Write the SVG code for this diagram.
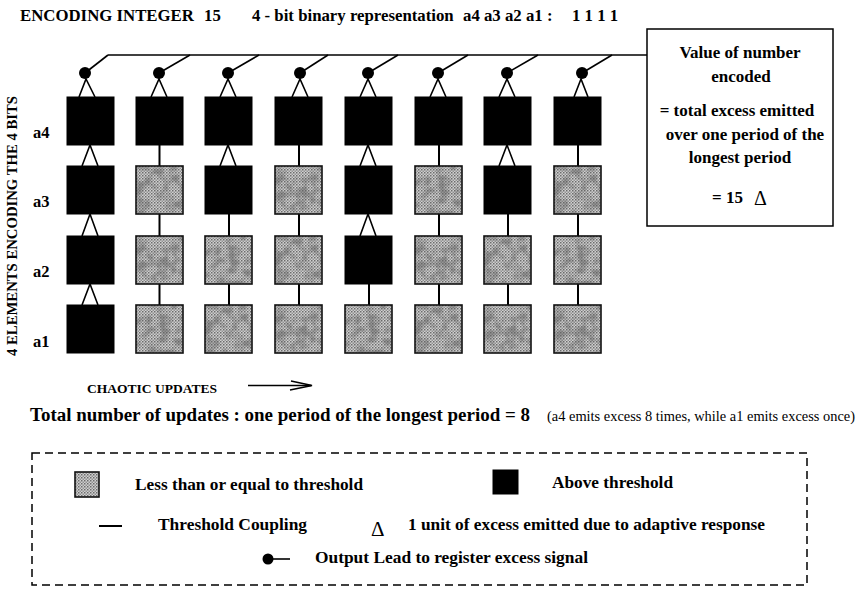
<svg xmlns="http://www.w3.org/2000/svg" width="859" height="591" viewBox="0 0 859 591">
<style>
.b{font-family:"Liberation Serif","Times New Roman",serif;font-weight:bold;fill:#000}
.r{font-family:"Liberation Serif","Times New Roman",serif;font-weight:normal;fill:#000}
.on{fill:#000;stroke:#000;stroke-width:1}
.off{fill:url(#stip);stroke:#111;stroke-width:1.6}
.cp{stroke:#000;stroke-width:2;fill:none}
.ex{stroke:#000;stroke-width:1.6;fill:none;stroke-linejoin:miter}
.ld{stroke:#000;stroke-width:1.6;fill:none}
</style>
<defs>
<pattern id="stip" width="3" height="3" patternUnits="userSpaceOnUse">
<rect width="3" height="3" fill="#d0d0d0"/>
<rect width="1.5" height="1.5" fill="#6c6c6c"/>
<rect x="1.5" y="1.5" width="1.5" height="1.5" fill="#929292"/>
</pattern>
<filter id="m1" x="0" y="0" width="1" height="1" color-interpolation-filters="sRGB">
<feTurbulence type="fractalNoise" baseFrequency="0.09" numOctaves="2" seed="7" result="n"/>
<feColorMatrix in="n" type="matrix" values="0 0 0 0 0.4 0 0 0 0 0.4 0 0 0 0 0.4 4 0 0 0 -1.8" result="m"/>
<feComposite in="m" in2="SourceGraphic" operator="in"/>
</filter>
<filter id="m2" x="0" y="0" width="1" height="1" color-interpolation-filters="sRGB">
<feTurbulence type="fractalNoise" baseFrequency="0.09" numOctaves="2" seed="23" result="n"/>
<feColorMatrix in="n" type="matrix" values="0 0 0 0 0.4 0 0 0 0 0.4 0 0 0 0 0.4 4 0 0 0 -1.8" result="m"/>
<feComposite in="m" in2="SourceGraphic" operator="in"/>
</filter>
<filter id="m3" x="0" y="0" width="1" height="1" color-interpolation-filters="sRGB">
<feTurbulence type="fractalNoise" baseFrequency="0.09" numOctaves="2" seed="51" result="n"/>
<feColorMatrix in="n" type="matrix" values="0 0 0 0 0.4 0 0 0 0 0.4 0 0 0 0 0.4 4 0 0 0 -1.8" result="m"/>
<feComposite in="m" in2="SourceGraphic" operator="in"/>
</filter>
<g id="gA"><rect class="off" x="0" y="0" width="47" height="48"/><rect x="1" y="1" width="45" height="46" fill="#000" opacity="0.55" filter="url(#m1)"/></g>
<g id="gB"><rect class="off" x="0" y="0" width="47" height="48"/><rect x="1" y="1" width="45" height="46" fill="#000" opacity="0.55" filter="url(#m2)"/></g>
<g id="gC"><rect class="off" x="0" y="0" width="47" height="48"/><rect x="1" y="1" width="45" height="46" fill="#000" opacity="0.55" filter="url(#m3)"/></g>
</defs>
<rect width="859" height="591" fill="#fff"/>

<g id="title">
<text class="b" x="20" y="21" font-size="16.8">ENCODING INTEGER</text>
<text class="b" x="204" y="21" font-size="16.8">15</text>
<text class="b" x="252" y="21" font-size="16.8">4 - bit binary representation</text>
<text class="b" x="463" y="21" font-size="16.8">a4 a3 a2 a1 :</text>
<text class="b" x="572" y="21" font-size="16.8">1 1 1 1</text>
</g>

<g id="axis-label">
<text class="b" font-size="14.5" text-anchor="middle" transform="translate(17,226) rotate(-90)" textLength="260" lengthAdjust="spacingAndGlyphs">4 ELEMENTS ENCODING THE 4 BITS</text>
<text class="b" x="33" y="138" font-size="16.5">a4</text>
<text class="b" x="33" y="207" font-size="16.5">a3</text>
<text class="b" x="33" y="277" font-size="16.5">a2</text>
<text class="b" x="33" y="347" font-size="16.5">a1</text>
</g>

<g id="connectors">
<line class="ld" x1="108" y1="55" x2="647" y2="55"/>
<g id="leads">
<line class="ld" x1="85" y1="73" x2="108" y2="55"/><circle cx="85" cy="73" r="6"/>
<line class="ld" x1="159" y1="73" x2="190" y2="55"/><circle cx="159" cy="73" r="6"/>
<line class="ld" x1="228" y1="73" x2="259" y2="55"/><circle cx="228" cy="73" r="6"/>
<line class="ld" x1="300" y1="73" x2="328" y2="55"/><circle cx="300" cy="73" r="6"/>
<line class="ld" x1="368" y1="73" x2="398" y2="55"/><circle cx="368" cy="73" r="6"/>
<line class="ld" x1="438" y1="73" x2="468" y2="55"/><circle cx="438" cy="73" r="6"/>
<line class="ld" x1="507" y1="73" x2="538" y2="55"/><circle cx="507" cy="73" r="6"/>
<line class="ld" x1="582" y1="73" x2="612" y2="55"/><circle cx="582" cy="73" r="6"/>
</g>
<g id="excess">
<polyline class="ex" points="79,97 86,79 95,97"/>
<polyline class="ex" points="151,97 159,79 167,97"/>
<polyline class="ex" points="220,97 228,79 236,97"/>
<polyline class="ex" points="292,97 300,79 308,97"/>
<polyline class="ex" points="360,97 368,79 376,97"/>
<polyline class="ex" points="430,97 438,79 446,97"/>
<polyline class="ex" points="499,97 507,79 515,97"/>
<polyline class="ex" points="574,97 581,79 588,97"/>
<polyline class="ex" points="82,166 90,145 98,166"/>
<polyline class="ex" points="82,236 90,214 98,236"/>
<polyline class="ex" points="82,305 90,284 98,305"/>
<polyline class="ex" points="220,166 228,145 236,166"/>
<polyline class="ex" points="360,166 368,145 376,166"/>
<polyline class="ex" points="360,236 368,214 376,236"/>
<polyline class="ex" points="499,166 507,145 515,166"/>
</g>
<g id="coupling">
<line class="cp" x1="159.5" y1="145" x2="159.5" y2="166"/>
<line class="cp" x1="159.5" y1="214" x2="159.5" y2="236"/>
<line class="cp" x1="159.5" y1="284" x2="159.5" y2="305"/>
<line class="cp" x1="229" y1="214" x2="229" y2="236"/>
<line class="cp" x1="229" y1="284" x2="229" y2="305"/>
<line class="cp" x1="299" y1="145" x2="299" y2="166"/>
<line class="cp" x1="299" y1="214" x2="299" y2="236"/>
<line class="cp" x1="299" y1="284" x2="299" y2="305"/>
<line class="cp" x1="369" y1="284" x2="369" y2="305"/>
<line class="cp" x1="439" y1="145" x2="439" y2="166"/>
<line class="cp" x1="439" y1="214" x2="439" y2="236"/>
<line class="cp" x1="439" y1="284" x2="439" y2="305"/>
<line class="cp" x1="508" y1="214" x2="508" y2="236"/>
<line class="cp" x1="508" y1="284" x2="508" y2="305"/>
<line class="cp" x1="578" y1="145" x2="578" y2="166"/>
<line class="cp" x1="578" y1="214" x2="578" y2="236"/>
<line class="cp" x1="578" y1="284" x2="578" y2="305"/>
</g>
</g>

<g id="cells">
<g id="c1-a4"><rect class="on" x="67" y="97" width="47" height="48"/></g>
<g id="c1-a3"><rect class="on" x="67" y="166" width="47" height="48"/></g>
<g id="c1-a2"><rect class="on" x="67" y="236" width="47" height="48"/></g>
<g id="c1-a1"><rect class="on" x="67" y="305" width="47" height="48"/></g>

<g id="c2-a4"><rect class="on" x="136" y="97" width="47" height="48"/></g>
<g id="c2-a3"><use href="#gA" x="136" y="166"/></g>
<g id="c2-a2"><use href="#gB" x="136" y="236"/></g>
<g id="c2-a1"><use href="#gC" x="136" y="305"/></g>

<g id="c3-a4"><rect class="on" x="205" y="97" width="47" height="48"/></g>
<g id="c3-a3"><rect class="on" x="205" y="166" width="47" height="48"/></g>
<g id="c3-a2"><use href="#gC" x="205" y="236"/></g>
<g id="c3-a1"><use href="#gA" x="205" y="305"/></g>

<g id="c4-a4"><rect class="on" x="275" y="97" width="47" height="48"/></g>
<g id="c4-a3"><use href="#gB" x="275" y="166"/></g>
<g id="c4-a2"><use href="#gA" x="275" y="236"/></g>
<g id="c4-a1"><use href="#gB" x="275" y="305"/></g>

<g id="c5-a4"><rect class="on" x="345" y="97" width="47" height="48"/></g>
<g id="c5-a3"><rect class="on" x="345" y="166" width="47" height="48"/></g>
<g id="c5-a2"><rect class="on" x="345" y="236" width="47" height="48"/></g>
<g id="c5-a1"><use href="#gC" x="345" y="305"/></g>

<g id="c6-a4"><rect class="on" x="415" y="97" width="47" height="48"/></g>
<g id="c6-a3"><use href="#gC" x="415" y="166"/></g>
<g id="c6-a2"><use href="#gB" x="415" y="236"/></g>
<g id="c6-a1"><use href="#gA" x="415" y="305"/></g>

<g id="c7-a4"><rect class="on" x="484" y="97" width="47" height="48"/></g>
<g id="c7-a3"><rect class="on" x="484" y="166" width="47" height="48"/></g>
<g id="c7-a2"><use href="#gA" x="484" y="236"/></g>
<g id="c7-a1"><use href="#gB" x="484" y="305"/></g>

<g id="c8-a4"><rect class="on" x="554" y="97" width="47" height="48"/></g>
<g id="c8-a3"><use href="#gA" x="554" y="166"/></g>
<g id="c8-a2"><use href="#gC" x="554" y="236"/></g>
<g id="c8-a1"><use href="#gB" x="554" y="305"/></g>
</g>

<g id="value-box">
<rect x="647" y="29" width="186" height="197" fill="#fff" stroke="#000" stroke-width="1.5"/>
<g font-size="17" text-anchor="middle">
<text class="b" x="740" y="58">Value of number</text>
<text class="b" x="741" y="82">encoded</text>
<text class="b" x="737" y="116">= total excess emitted</text>
<text class="b" x="745" y="140">over one period of the</text>
<text class="b" x="740" y="163">longest period</text>
</g>
<text class="b" x="712" y="203" font-size="17">= 15</text>
<text class="r" x="754" y="205" font-size="20">Δ</text>
</g>

<g id="updates">
<text class="b" x="87" y="393" font-size="13.5" textLength="130" lengthAdjust="spacingAndGlyphs">CHAOTIC UPDATES</text>
<line class="ld" x1="248" y1="385.5" x2="311" y2="385.5"/>
<polyline class="ld" points="291,381 312,385.5 290,390"/>
<text class="b" x="30" y="421" font-size="18" textLength="500" lengthAdjust="spacingAndGlyphs">Total number of updates : one period of the longest period = 8</text>
<text class="r" x="547" y="421" font-size="14.5" textLength="308" lengthAdjust="spacingAndGlyphs">(a4 emits excess 8 times, while a1 emits excess once)</text>
</g>

<g id="legend">
<rect x="32" y="453" width="775" height="132" fill="none" stroke="#000" stroke-width="1.5" stroke-dasharray="8 5"/>
<rect class="off" x="75" y="472" width="24" height="25"/>
<text class="b" x="135" y="490" font-size="17" textLength="228" lengthAdjust="spacingAndGlyphs">Less than or equal to threshold</text>
<rect class="on" x="493" y="470" width="25" height="24"/>
<text class="b" x="552" y="488" font-size="17" textLength="121" lengthAdjust="spacingAndGlyphs">Above threshold</text>
<line class="cp" x1="99" y1="526" x2="122" y2="526"/>
<text class="b" x="158" y="530" font-size="17" textLength="149" lengthAdjust="spacingAndGlyphs">Threshold Coupling</text>
<text class="r" x="371" y="536" font-size="21">Δ</text>
<text class="b" x="408" y="530" font-size="17" textLength="357" lengthAdjust="spacingAndGlyphs">1 unit of excess emitted due to adaptive response</text>
<circle cx="268" cy="559" r="5.5"/>
<line class="ld" x1="268" y1="559" x2="290" y2="559"/>
<text class="b" x="315" y="563" font-size="17" textLength="273" lengthAdjust="spacingAndGlyphs">Output Lead to register excess signal</text>
</g>
</svg>
